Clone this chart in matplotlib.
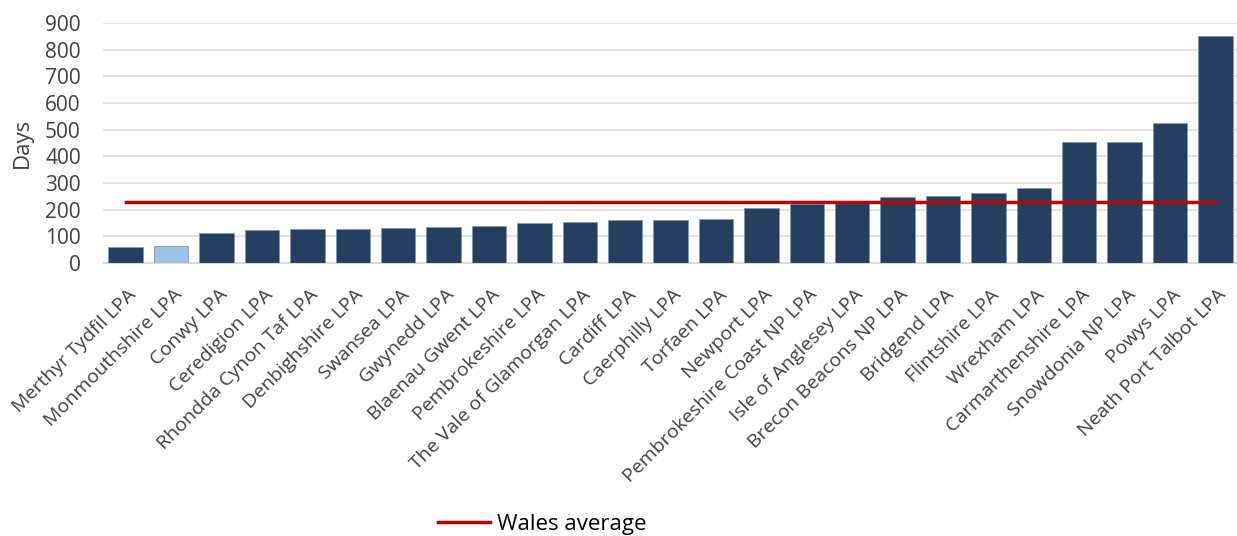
import matplotlib.pyplot as plt
import matplotlib.transforms as mtransforms

plt.rcParams['font.family'] = ['Open Sans', 'DejaVu Sans']

authorities = ['Merthyr Tydfil LPA', 'Monmouthshire LPA', 'Conwy LPA', 'Ceredigion LPA',
               'Rhondda Cynon Taf LPA', 'Denbighshire LPA', 'Swansea LPA', 'Gwynedd LPA',
               'Blaenau Gwent LPA', 'Pembrokeshire LPA', 'The Vale of Glamorgan LPA',
               'Cardiff LPA', 'Caerphilly LPA', 'Torfaen LPA', 'Newport LPA',
               'Pembrokeshire Coast NP LPA', 'Isle of Anglesey LPA', 'Brecon Beacons NP LPA',
               'Bridgend LPA', 'Flintshire LPA', 'Wrexham LPA', 'Carmarthenshire LPA',
               'Snowdonia NP LPA', 'Powys LPA', 'Neath Port Talbot LPA']
days = [62, 66, 112, 124, 128, 128, 131, 135, 139, 150, 154, 160, 160, 164, 208,
        222, 232, 248, 251, 263, 280, 455, 455, 525, 850]
wales_average = 231
highlight = 'Monmouthshire LPA'

colors = ['#9DC3E6' if a == highlight else '#243F60' for a in authorities]
x = list(range(len(authorities)))

fig = plt.figure(figsize=(12.37, 5.36), dpi=100)
ax = fig.add_axes([0.0833, 0.509, 0.9176, 0.448])

ax.bar(x, days, width=0.76, color=colors, edgecolor='#8497B0', linewidth=0.6, zorder=2)
ax.plot([x[0], x[-1]], [wales_average] * 2, color='#C00000', linewidth=2.5,
        label='Wales average', zorder=3)

ax.set_xlim(-0.5, len(x) - 0.5)
ax.set_ylim(0, 900)
ax.set_yticks(range(0, 1000, 100))
ax.yaxis.grid(True, color='#D9D9D9', linewidth=1.1, zorder=0)
ax.set_axisbelow(True)
for s in ['top', 'right', 'left']:
    ax.spines[s].set_visible(False)
ax.spines['bottom'].set_color('#D9D9D9')
ax.tick_params(axis='both', length=0, colors='#404040')
ax.tick_params(axis='y', pad=16, labelsize=15)
ax.set_xticks(x)
ax.set_xticklabels(authorities, rotation=45, ha='right', va='center',
                   rotation_mode='anchor', fontsize=14)
# shift rotated labels like Excel does
offset = mtransforms.ScaledTranslation(8 / 100, -24 / 100, fig.dpi_scale_trans)
for lbl in ax.get_xticklabels():
    lbl.set_transform(lbl.get_transform() + offset)
ax.set_ylabel('Days', fontsize=16, color='#404040', labelpad=9)

fig.legend(loc='center', bbox_to_anchor=(0.438, 0.022), frameon=False, fontsize=16,
           handlelength=2.35, handletextpad=0.3)

plt.savefig('out.png')
